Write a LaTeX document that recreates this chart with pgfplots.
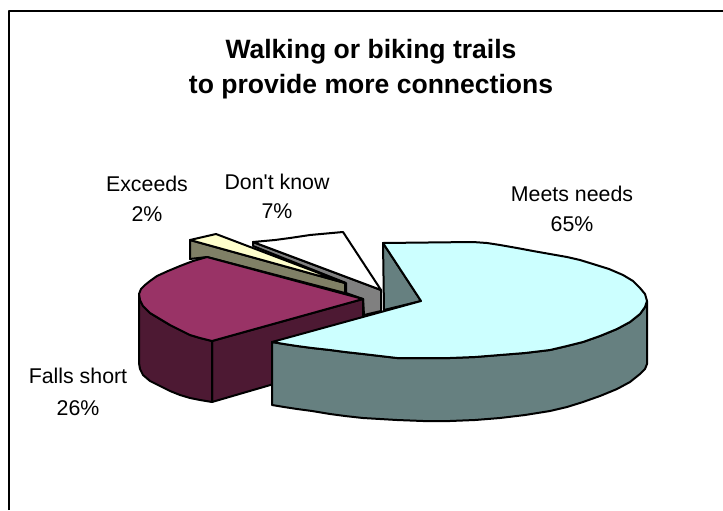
\documentclass[border=0pt]{standalone}
\usepackage{pgfplots}
\pgfplotsset{compat=1.18}
\usepackage{fontspec}
\setmainfont{Liberation Sans}
\newfontfamily\plainf{Liberation Sans}
\definecolor{cy}{HTML}{CCFFFF}
\definecolor{cyw}{HTML}{668080}
\definecolor{pu}{HTML}{993366}
\definecolor{puw}{HTML}{4D1933}
\definecolor{cr}{HTML}{FFFFCC}
\definecolor{crw}{HTML}{808066}
\definecolor{gr}{HTML}{808080}
\tikzset{
  lbl/.style={font=\fontsize{16}{18}\selectfont, text=black, inner sep=0pt, anchor=center},
  ttl/.style={font=\fontsize{19.9}{22}\bfseries\selectfont, text=black, inner sep=0pt, anchor=center},
}
\begin{document}
\begin{tikzpicture}
\begin{axis}[
  hide axis, scale only axis, width=542.25pt, height=382.5pt,
  xmin=0, xmax=723, ymin=0, ymax=510, y dir=reverse, clip=true,
  every axis plot/.append style={draw=black, line width=1.5pt, line join=round, mark=none},
]
\path (axis cs:0,0) rectangle (axis cs:723,510);
% chart frame
\addplot[line width=2pt, forget plot] coordinates {(9,510) (9,11) (723,11)};
% white slice wall
\addplot[fill=gr] coordinates {(253,242) (381,290) (381,311) (364,315) (363,299) (346,293) (346,283) (253,246)} -- cycle;
% white slice top
\addplot[fill=white] coordinates {(253,242) (275,240) (290,238) (310,235) (343,232) (381,290)} -- cycle;
% exceeds wall and top
\addplot[fill=crw] coordinates {(190,240) (345,283) (345,293) (207,257) (190,259)} -- cycle;
\addplot[fill=cr] coordinates {(190,240) (216,234) (345,283)} -- cycle;
% falls short walls
\addplot[fill=puw] coordinates {(212,341) (212,402) (363,358) (363,299)} -- cycle;
\addplot[fill=puw] coordinates {(139,294) (139,363) (140,369) (143,375) (150,381) (160,386) (170,391) (180,395) (190,398) (200,400) (212,402) (212,341) (200,338) (190,335) (180,330) (170,325) (160,319) (150,313) (143,306) (140,300)} -- cycle;
% falls short top
\addplot[fill=pu] coordinates {(207,257) (193,261) (180,266) (168,271) (157,276) (150,281) (145,285) (141,289) (139,294) (140,300) (143,306) (150,313) (160,319) (170,325) (180,330) (190,335) (200,338) (212,341) (363,299)} -- cycle;
% meets needs inner wall
\addplot[fill=cyw] coordinates {(383,243) (421,301) (384,310)} -- cycle;
% meets needs outer wall
\addplot[fill=cyw] coordinates {(272,342) (272,405) (284,407) (297,409) (312,411) (330,414) (345,416) (363,418) (380,419) (397,420) (423,421) (450,421) (475,420) (500,418) (525,415) (550,411) (567,407) (583,402) (600,396) (617,389) (630,382) (640,374) (645,369) (647,364) (647,301) (645,307) (640,314) (630,322) (617,329) (600,336) (583,342) (567,346) (550,350) (525,353) (500,355) (475,357) (450,358) (423,358) (397,358) (380,356) (363,354) (345,352) (330,350) (312,348) (297,346) (284,344)} -- cycle;
% meets needs top
\addplot[fill=cy] coordinates {(421,301) (383,243) (473,242) (487,243) (500,245) (517,248) (533,251) (550,254) (567,257) (580,260) (593,264) (609,269) (623,275) (633,281) (640,288) (645,294) (647,301) (645,307) (640,314) (630,322) (617,329) (600,336) (583,342) (567,346) (550,350) (525,353) (500,355) (475,357) (450,358) (423,358) (397,358) (380,356) (363,354) (345,352) (330,350) (312,348) (297,346) (284,344) (272,342)} -- cycle;
\node[ttl] at (axis cs:371,52) {Walking or biking trails};
\node[ttl] at (axis cs:371,87) {to provide more connections};
\node[lbl] at (axis cs:147,184) {Exceeds};
\node[lbl] at (axis cs:147,214) {2\%};
\node[lbl] at (axis cs:277,182) {\plainf Don't know};
\node[lbl] at (axis cs:277,211) {7\%};
\node[lbl] at (axis cs:572,194) {Meets needs};
\node[lbl] at (axis cs:572,224) {65\%};
\node[lbl] at (axis cs:78,376) {Falls short};
\node[lbl] at (axis cs:78,408) {26\%};
\end{axis}
\end{tikzpicture}
\end{document}
